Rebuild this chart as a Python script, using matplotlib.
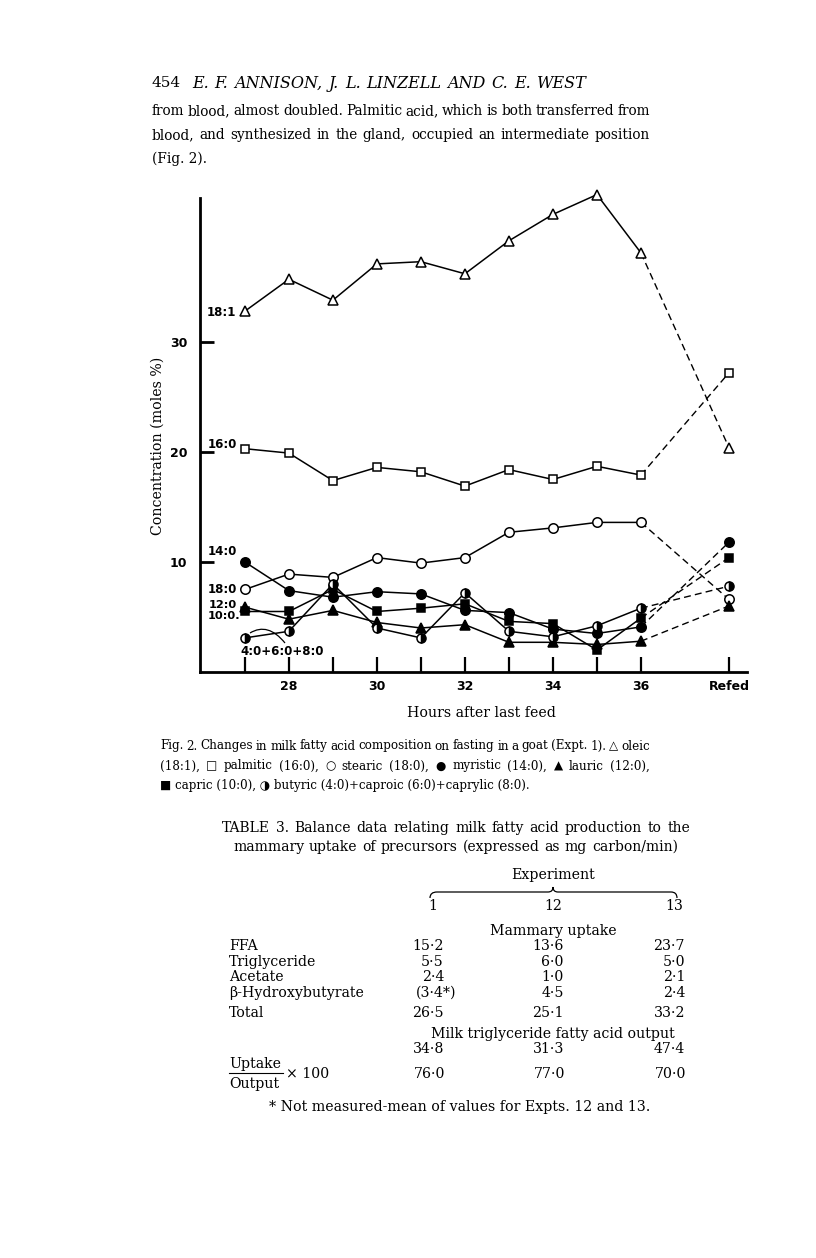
import matplotlib.pyplot as plt
from matplotlib.path import Path
from matplotlib.patches import PathPatch
from matplotlib.lines import Line2D

W, H = 816, 1258

# ---- chart data (moles %) ----
hours = [27, 28, 29, 30, 31, 32, 33, 34, 35, 36]
refed_x = 38
tick_pos = [27, 28, 29, 30, 31, 32, 33, 34, 35, 36, 38]
tick_labels = ["", "28", "", "30", "", "32", "", "34", "", "36", "Refed"]

oleic = [32.8, 35.7, 33.8, 37.1, 37.3, 36.2, 39.2, 41.6, 43.4, 38.1]
oleic_refed = 20.4
palmitic = [20.3, 19.9, 17.4, 18.6, 18.2, 16.9, 18.4, 17.5, 18.7, 17.9]
palmitic_refed = 27.2
stearic = [7.5, 8.9, 8.6, 10.4, 9.9, 10.4, 12.7, 13.1, 13.6, 13.6]
stearic_refed = 6.6
myristic = [10.0, 7.4, 6.8, 7.3, 7.1, 5.6, 5.4, 3.9, 3.5, 4.1]
myristic_refed = 11.8
lauric = [5.9, 4.8, 5.6, 4.5, 4.0, 4.3, 2.7, 2.7, 2.5, 2.8]
lauric_refed = 6.0
capric = [5.5, 5.5, 7.5, 5.5, 5.8, 6.2, 4.6, 4.4, 2.0, 4.9]
capric_refed = 10.4
butyric = [3.1, 3.7, 8.0, 4.0, 3.1, 7.2, 3.7, 3.2, 4.2, 5.8]
butyric_refed = 7.8

# ---- table data ----
row_labels = ["FFA", "Triglyceride", "Acetate", "\u03b2-Hydroxybutyrate", "Total"]
expt_ids = ["1", "12", "13"]
expt1 = ["15\u00b72", "5\u00b75", "2\u00b74", "(3\u00b74*)", "26\u00b75"]
expt12 = ["13\u00b76", "6\u00b70", "1\u00b70", "4\u00b75", "25\u00b71"]
expt13 = ["23\u00b77", "5\u00b70", "2\u00b71", "2\u00b74", "33\u00b72"]
milk_output = ["34\u00b78", "31\u00b73", "47\u00b74"]
uptake_ratio = ["76\u00b70", "77\u00b70", "70\u00b70"]

SERIF = ["DejaVu Serif", "DejaVu Sans"]


def P(x, y):
    return x / W, 1 - y / H


fig = plt.figure(figsize=(W / 100, H / 100), dpi=100)
fig.patch.set_facecolor("white")
renderer = fig.canvas.get_renderer()


def justify(line, x0, x1, y, size, **kw):
    words = line.split(" ")
    texts = [fig.text(0, 1 - y / H, w, fontsize=size, va="center", ha="left",
                      family=SERIF, **kw) for w in words]
    widths = [t.get_window_extent(renderer).width for t in texts]
    gap = (x1 - x0 - sum(widths)) / max(len(words) - 1, 1)
    x = x0
    for t, w in zip(texts, widths):
        t.set_x(x / W)
        x += w + gap


def ptext(x, y, s, size, ha="left", **kw):
    fig.text(*P(x, y), s, fontsize=size, ha=ha, va="center", family=SERIF, **kw)


# ---- page text ----
ptext(152, 83, "454", 11)
justify("E. F. ANNISON, J. L. LINZELL AND C. E. WEST", 192, 587, 83, 11.5, style="italic")
justify("from blood, almost doubled. Palmitic acid, which is both transferred from",
        152, 650, 111, 9.8)
justify("blood, and synthesized in the gland, occupied an intermediate position",
        152, 650, 135, 9.8)
ptext(152, 159, "(Fig. 2).", 9.8)

# ---- chart ----
ax = fig.add_axes([200 / W, 1 - 672 / H, 547 / W, 474 / H])
ax.set_xlim(25.98, 38.41)
ax.set_ylim(0, 43.09)
for s in ["top", "right"]:
    ax.spines[s].set_visible(False)
for s in ["left", "bottom"]:
    ax.spines[s].set_linewidth(2)

ax.set_xticks(tick_pos)
ax.set_xticklabels(tick_labels, fontweight="bold", family="DejaVu Sans", fontsize=9)
ax.set_yticks([10, 20, 30])
ax.set_yticklabels(["10", "20", "30"], fontweight="bold", family="DejaVu Sans", fontsize=9)
ax.tick_params(axis="x", direction="in", length=11, width=1.6, pad=6)
ax.tick_params(axis="y", direction="in", length=10, width=2, pad=9)

dash = (0, (5, 3))


def series(vals, refed, marker, ms, mfc, **mk):
    ax.plot(hours, vals, color="black", lw=1.1, zorder=2, clip_on=False)
    ax.plot([hours[-1], refed_x], [vals[-1], refed], color="black", lw=1.0,
            ls=dash, zorder=2, clip_on=False)
    ax.plot(hours + [refed_x], vals + [refed], ls="none", marker=marker, ms=ms,
            mfc=mfc, mec="black", mew=1.1, zorder=3, clip_on=False, **mk)


series(oleic, oleic_refed, "^", 7.5, "white")
series(palmitic, palmitic_refed, "s", 6.3, "white")
series(stearic, stearic_refed, "o", 6.8, "white")
series(myristic, myristic_refed, "o", 6.8, "black")
series(lauric, lauric_refed, "^", 7.0, "black")
series(capric, capric_refed, "s", 6.3, "black")
series(butyric, butyric_refed, "o", 6.5, "black", fillstyle="right",
       markerfacecoloralt="white")


def tag(text, yval, dx, dy, ha="right", size=8.5):
    ax.annotate(text, (hours[0], yval), xytext=(dx * 0.72, -dy * 0.72),
                textcoords="offset points", ha=ha, va="center", fontsize=size,
                fontweight="bold", family="DejaVu Sans")


tag("18:1", oleic[0], -9, 1)
tag("16:0", palmitic[0], -8, -4)
tag("14:0", myristic[0], -8, -10)
tag("18:0", stearic[0], -8, 0)
tag("12:0", lauric[0], -8, -2, size=8.2)
tag("10:0.", capric[0], -5, 5, size=8.2)
tag("4:0+6:0+8:0", butyric[0], -4, 14, ha="left")

# curved leader from the butyric label
lead = Path([P(250, 633), P(268, 622), P(285, 643)],
            [Path.MOVETO, Path.CURVE3, Path.CURVE3])
fig.patches.append(PathPatch(lead, transform=fig.transFigure, fill=False, lw=0.9))

ptext(158, 446, "Concentration (moles %)", 10.2, ha="center", rotation=90)
ptext(481, 713, "Hours after last feed", 10.2, ha="center")

# ---- caption ----
CS = 8.55
justify("Fig. 2. Changes in milk fatty acid composition on fasting in a goat (Expt. 1). \u25b3 oleic",
        160, 650, 746, CS)
justify("(18:1), \u25a1 palmitic (16:0), \u25cb stearic (18:0), \u25cf myristic (14:0), \u25b2 lauric (12:0),",
        160, 650, 766, CS)
ptext(160, 786, "\u25a0 capric (10:0), \u25d1 butyric (4:0)+caproic (6:0)+caprylic (8:0).", CS)

# ---- table ----
justify("TABLE 3. Balance data relating milk fatty acid production to the", 222, 690, 828, 10)
justify("mammary uptake of precursors (expressed as mg carbon/min)", 233, 678, 847, 10)

TS = 10.2
ptext(553, 875, "Experiment", TS, ha="center")
brace = Path([P(430, 898), P(430, 892), P(437, 892), P(548, 892), P(553, 892), P(553, 887),
              P(553, 892), P(558, 892), P(671, 892), P(677, 892), P(677, 898)],
             [Path.MOVETO, Path.CURVE3, Path.CURVE3, Path.LINETO, Path.CURVE3, Path.CURVE3,
              Path.CURVE3, Path.CURVE3, Path.LINETO, Path.CURVE3, Path.CURVE3])
fig.patches.append(PathPatch(brace, transform=fig.transFigure, fill=False, lw=0.9))

col_center = [433, 553, 674]
col_right = [444, 564, 685]
for cx, lab in zip(col_center, expt_ids):
    ptext(cx, 906, lab, TS, ha="center")

ptext(553, 931, "Mammary uptake", TS, ha="center")
row_y = [946, 962, 977, 993, 1013]
for yy, lab in zip(row_y, row_labels):
    ptext(229, yy, lab, TS)
for col, vals in enumerate([expt1, expt12, expt13]):
    for yy, v in zip(row_y, vals):
        if v.startswith("("):
            ptext(416, yy, v, TS)
        else:
            ptext(col_right[col], yy, v, TS, ha="right")

ptext(553, 1034, "Milk triglyceride fatty acid output", TS, ha="center")
for xr, v in zip(col_right, milk_output):
    ptext(xr, 1049, v, TS, ha="right")

ptext(229, 1064, "Uptake", TS)
fig.add_artist(Line2D([229 / W, 283 / W], [1 - 1073 / H] * 2, color="black", lw=0.8))
ptext(229, 1084, "Output", TS)
ptext(286, 1074, "\u00d7 100", TS)
for xr, v in zip(col_right, uptake_ratio):
    ptext(xr + 1, 1074, v, TS, ha="right")

ptext(460, 1107, "* Not measured-mean of values for Expts. 12 and 13.", TS, ha="center")

fig.savefig("out.png", dpi=100, facecolor="white")
